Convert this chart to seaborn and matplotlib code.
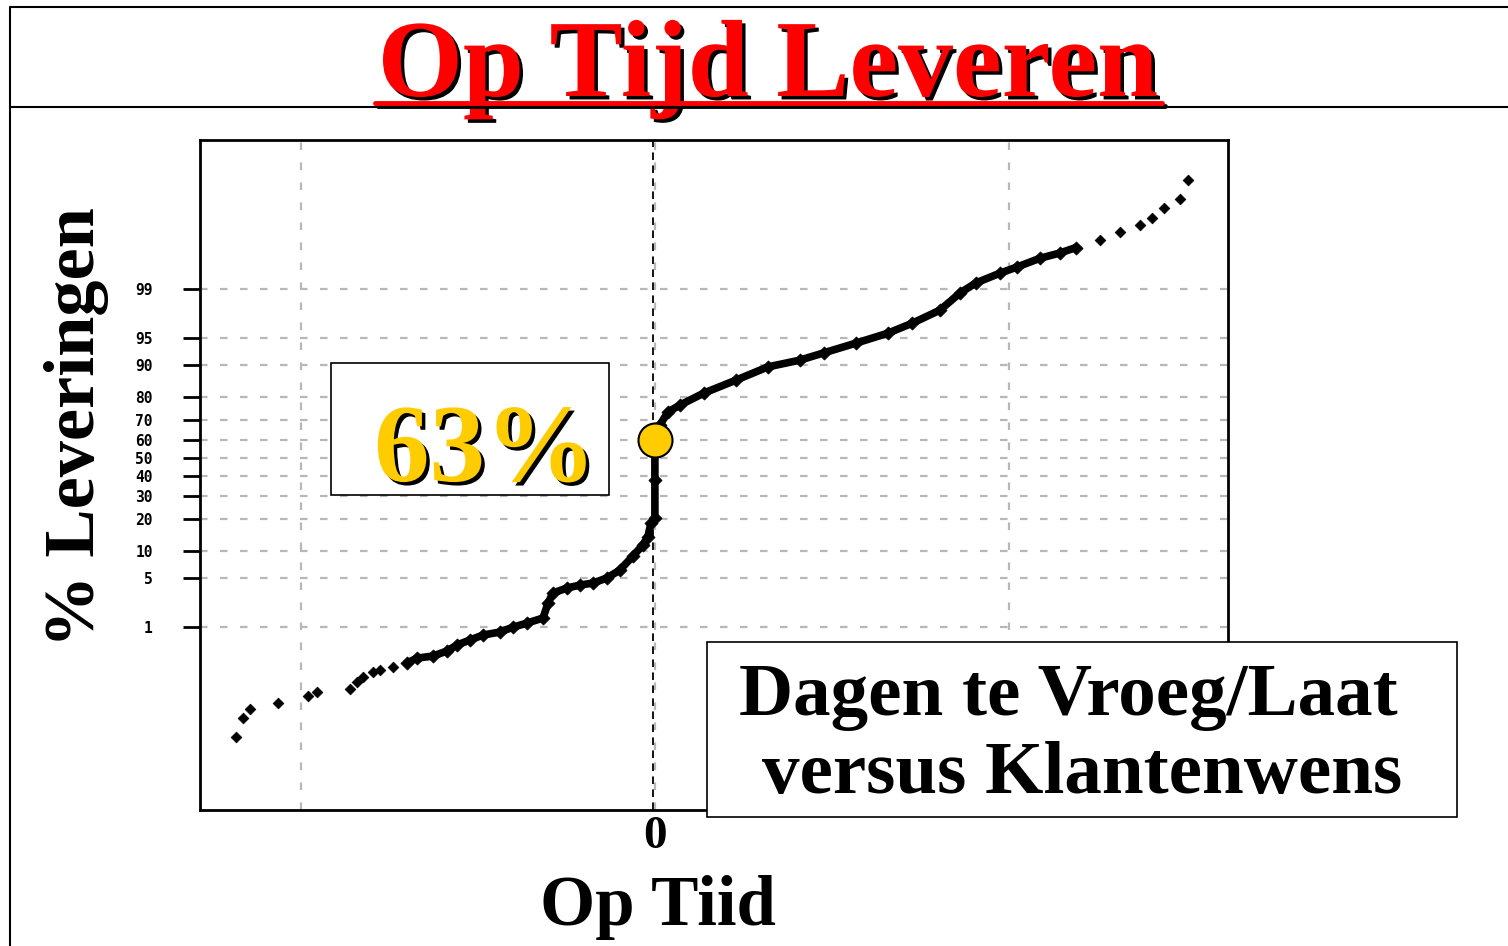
import numpy as np
import matplotlib
matplotlib.use('Agg')
import matplotlib.pyplot as plt
import matplotlib.patheffects as pe
from matplotlib.lines import Line2D
from matplotlib.patches import Rectangle
import seaborn as sns
from statistics import NormalDist

# --- data (days early/late vs. cumulative % of deliveries) ---
days_low = [-11.84, -11.64, -11.44, -10.65, -9.80, -9.55, -8.62, -8.42, -8.25, -7.97, -7.77, -7.40]
pct_low = [0.0062, 0.0174, 0.0277, 0.0376, 0.053, 0.064, 0.074, 0.103, 0.130, 0.162, 0.177, 0.202]

days_body = [-7.01, -6.72, -6.27, -5.88, -5.59, -5.23, -4.86, -4.38, -4.01, -3.62, -3.16, -3.02,
             -2.88, -2.49, -2.12, -1.75, -1.36, -0.99, -0.62, -0.34, -0.20, -0.11, 0.0, 0.0,
             0.0, 0.14, 0.37, 0.71, 1.38, 2.29, 3.19, 4.10, 4.77, 5.68, 6.58, 7.26, 8.05,
             8.62, 9.07, 9.75, 10.23, 10.88, 11.44, 11.89]
pct_body = [0.240, 0.297, 0.323, 0.397, 0.506, 0.616, 0.745, 0.836, 1.00, 1.16, 1.39, 2.30,
            3.17, 3.69, 4.03, 4.28, 4.94, 6.17, 8.88, 11.6, 13.9, 18.6, 20.5, 38.1,
            57.1, 67.5, 73.7, 76.7, 81.4, 85.8, 89.5, 91.1, 92.6, 94.3, 95.7, 96.8, 97.9,
            98.84, 99.20, 99.45, 99.57, 99.70, 99.76, 99.81]

days_high = [12.57, 13.14, 13.70, 14.04, 14.38, 14.83, 15.06]
pct_high = [99.865, 99.906, 99.932, 99.952, 99.971, 99.982, 99.9934]

on_time_day = [0.0]
on_time_pct = [60.0]

ytick_pct = [1, 5, 10, 20, 30, 40, 50, 60, 70, 80, 90, 95, 99]
xgrid_days = [-10, 0, 10]
xtick_labels = ['', '0', '']

SERIF = 'Liberation Serif'

# normal probability scale
_nd = NormalDist()
_ppf = np.vectorize(_nd.inv_cdf, otypes=[float])
_cdf = np.vectorize(_nd.cdf, otypes=[float])


def fwd(p):
    p = np.clip(np.asarray(p, dtype=float) / 100.0, 1e-15, 1 - 1e-15)
    return _ppf(p)


def inv(z):
    return _cdf(np.asarray(z, dtype=float)) * 100.0


sns.set_theme(style='white')
plt.rcParams['font.family'] = ['DejaVu Sans']

W, H = 1508, 946
fig = plt.figure(figsize=(W / 100, H / 100), dpi=100)
fig.patch.set_facecolor('white')
ax = fig.add_axes([200 / W, 1 - 810 / H, 1028 / W, 670 / H])
ax.set_facecolor('white')

# curve
sns.lineplot(x=days_body, y=pct_body, sort=False, estimator=None, color='black',
             linewidth=5.5, ax=ax, zorder=3)
sns.scatterplot(x=days_body, y=pct_body, marker='D', s=45, color='black',
                edgecolor='black', linewidth=0.5, ax=ax, zorder=3)
sns.scatterplot(x=days_low + days_high, y=pct_low + pct_high, marker='D', s=30,
                color='black', edgecolor='black', linewidth=0.5, ax=ax, zorder=3)
sns.scatterplot(x=on_time_day, y=on_time_pct, s=600, color='#FFCC00',
                edgecolor='black', linewidth=1.5, ax=ax, zorder=6)

ax.axvline(-0.05, color='black', lw=1.3, ls=(0, (4.2, 3)), zorder=1.5)

ax.set_yscale('function', functions=(fwd, inv))
ax.set_ylim(_nd.cdf(-4.84) * 100, _nd.cdf(4.374) * 100)
ax.set_xlim(-12.85, 16.19)

ax.set_yticks(ytick_pct)
ax.set_yticklabels([str(v) for v in ytick_pct], family='DejaVu Sans Mono',
                   fontweight='bold', fontsize=10.5, color='black')
ax.minorticks_off()
ax.set_xticks(xgrid_days)
ax.set_xticklabels(xtick_labels, family=SERIF, fontweight='bold', fontsize=34, color='black')
ax.tick_params(axis='y', left=True, length=12, width=2, pad=22, color='black',
               direction='out')
ax.tick_params(axis='x', bottom=True, length=0, pad=4)

ax.grid(True, color='#b8b8b8', linestyle=(0, (3.4, 5.6)), linewidth=1.6)
ax.set_axisbelow(True)
ax.set_xlabel('')
ax.set_ylabel('')
for s in ax.spines.values():
    s.set_color('black')
    s.set_linewidth(2)

# slide frame
fig.add_artist(Line2D([10 / W, 10 / W], [0, 1 - 7 / H], transform=fig.transFigure,
                      color='black', lw=1.5))
fig.add_artist(Line2D([10 / W, 1], [1 - 7 / H, 1 - 7 / H], transform=fig.transFigure,
                      color='black', lw=1.5))
fig.add_artist(Line2D([10 / W, 1], [1 - 107 / H, 1 - 107 / H], transform=fig.transFigure,
                      color='black', lw=1.5))

# title with shadow and underline
shadow = [pe.withSimplePatchShadow(offset=(2.5, -2.5), shadow_rgbFace='black', alpha=1.0)]
fig.text(768 / W, 1 - 96 / H, 'Op Tijd Leveren', ha='center', va='baseline',
         fontsize=79, fontweight='bold', family=SERIF, color='#ff0000',
         path_effects=shadow)
fig.add_artist(Line2D([375 / W, 1162 / W], [1 - 103 / H, 1 - 103 / H],
                      transform=fig.transFigure, color='#ff0000', lw=3.5, zorder=4,
                      path_effects=[pe.SimpleLineShadow(offset=(2, -2), shadow_color='black',
                                                        alpha=1.0), pe.Normal()]))

# 63% box
fig.add_artist(Rectangle((331 / W, 1 - 495 / H), 278 / W, 132 / H, transform=fig.transFigure,
                         facecolor='white', edgecolor='black', lw=1.2, zorder=4))
fig.text(485 / W, 1 - 481 / H, '63%', ha='center', va='baseline', fontsize=80,
         fontweight='bold', family=SERIF, color='#FFCC00', path_effects=shadow, zorder=6)

# axis description box
fig.add_artist(Rectangle((707 / W, 1 - 817 / H), 750 / W, 175 / H, transform=fig.transFigure,
                         facecolor='white', edgecolor='black', lw=1.2, zorder=4))
fig.text(1068 / W, 1 - 715 / H, 'Dagen te Vroeg/Laat', ha='center', va='baseline',
         fontsize=54, fontweight='bold', family=SERIF, color='black', zorder=6)
fig.text(1082 / W, 1 - 793 / H, 'versus Klantenwens', ha='center', va='baseline',
         fontsize=54, fontweight='bold', family=SERIF, color='black', zorder=6)

fig.text(77 / W, 1 - 427 / H, '% Leveringen', ha='center', va='center', rotation=90,
         fontsize=52, fontweight='bold', family=SERIF, color='black')
fig.text(658 / W, 1 - 925 / H, 'Op Tiid', ha='center', va='baseline',
         fontsize=51, fontweight='bold', family=SERIF, color='black')

fig.savefig('out.png', dpi=100, facecolor='white')
